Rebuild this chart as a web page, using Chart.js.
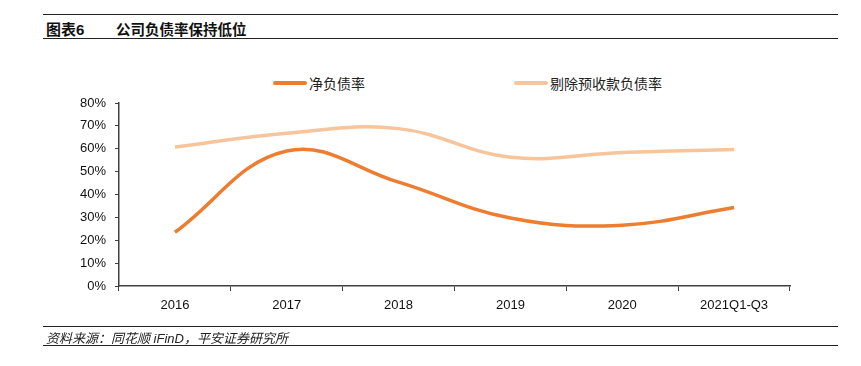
<!DOCTYPE html>
<html><head><meta charset="utf-8">
<script src="https://cdn.jsdelivr.net/npm/chart.js@4/dist/chart.umd.min.js"></script>
<style>
html,body{margin:0;padding:0;background:#fff;}
#wrap{position:relative;width:861px;height:366px;overflow:hidden;font-family:"Liberation Sans","Noto Sans CJK SC",sans-serif;}
#c{position:absolute;left:0;top:0;}
.hl{position:absolute;left:43px;width:795px;border-top:1.5px solid #222;}
#title{position:absolute;left:46px;top:18px;font-size:14.5px;font-weight:bold;color:#111;font-family:"Liberation Sans","Noto Sans CJK SC",sans-serif;}
#title span{display:inline-block;}
#foot{position:absolute;left:46px;top:328px;font-size:13px;font-style:italic;color:#222;font-family:"Liberation Sans","Noto Sans CJK SC",sans-serif;}
.lg{position:absolute;top:73px;font-size:14px;color:#222;font-family:"Noto Sans CJK SC",sans-serif;display:flex;align-items:center;}
.lg i{display:inline-block;width:34px;height:4px;border-radius:2px;margin-right:2px;}
</style></head>
<body><div id="wrap">
<div class="hl" style="top:14px"></div>
<div id="title"><span style="width:70px;font-size:15px">图表6</span><span>公司负债率保持低位</span></div>
<div class="hl" style="top:38px"></div>
<div class="lg" style="left:273px"><i style="background:#ED7D31"></i>净负债率</div>
<div class="lg" style="left:514px"><i style="background:#F8C49C"></i>剔除预收款负债率</div>
<canvas id="c" width="861" height="366"></canvas>
<div class="hl" style="top:326px"></div>
<div id="foot">资料来源：同花顺 iFinD，平安证券研究所</div>
<div class="hl" style="top:345px"></div>
</div>
<script>
const categories = ["2016","2017","2018","2019","2020","2021Q1-Q3"];
const netDebtRatio = [23.5, 59.0, 45.4, 29.7, 26.6, 34.3];
const debtRatioExAdvance = [60.8, 66.8, 68.8, 56.3, 58.4, 59.7];
const seriesNames = ["净负债率","剔除预收款负债率"];
const yTicks = [0,10,20,30,40,50,60,70,80];

const font = {family:"Liberation Sans, Arial, sans-serif", size:13};
new Chart(document.getElementById('c'), {
  type:'line',
  data:{labels:categories, datasets:[
    {label:seriesNames[1], data:debtRatioExAdvance, borderColor:'#F8C49C', borderWidth:3.5, pointRadius:0, tension:0.4, fill:false},
    {label:seriesNames[0], data:netDebtRatio, borderColor:'#ED7D31', borderWidth:3.5, pointRadius:0, tension:0.4, fill:false}
  ]},
  options:{
    responsive:false, animation:false, devicePixelRatio:1,
    layout:{padding:{top:103,right:71,bottom:50,left:0}},
    plugins:{legend:{display:false}, tooltip:{enabled:false}},
    scales:{
      x:{offset:true,
        grid:{offset:true, drawOnChartArea:false, drawTicks:true, tickLength:5, color:'#404040', lineWidth:1},
        border:{color:'#404040', width:1.5},
        ticks:{font:font, color:'#111', padding:7, maxRotation:0, autoSkip:false},
        afterFit:s=>{s.height=30;}
      },
      y:{min:0,max:80,
        afterBuildTicks:s=>{s.ticks=yTicks.map(v=>({value:v}));},
        grid:{drawOnChartArea:false, drawTicks:true, tickLength:4, color:'#404040'},
        border:{color:'#404040', width:1.5},
        ticks:{font:font, color:'#111', padding:9, callback:v=>v+'%'},
        afterFit:s=>{s.width=119;}
      }
    }
  }
});
</script>
</body></html>
